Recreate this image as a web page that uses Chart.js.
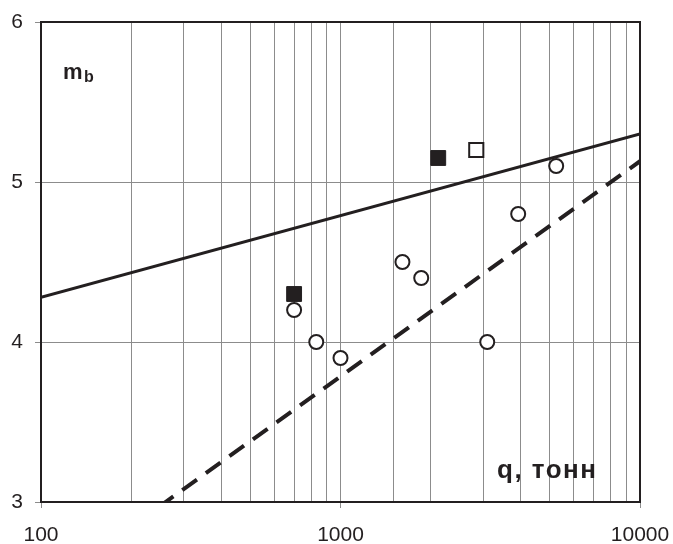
<!DOCTYPE html>
<html>
<head>
<meta charset="utf-8">
<script src="https://cdn.jsdelivr.net/npm/chart.js@4"></script>
<style>
  body { margin: 0; background: #fff; }
  #wrap { width: 673px; height: 544px; }
</style>
</head>
<body>
<div id="wrap"><canvas id="mbChart" width="673" height="544"></canvas></div>
<script>
// data
const filledSqX = [700, 2120];
const filledSqY = [4.3, 5.15];
const openSqX = [2840];
const openSqY = [5.2];
const circleX = [700, 830, 1000, 1610, 1860, 3090, 3920, 5250];
const circleY = [4.2, 4.0, 3.9, 4.5, 4.4, 4.0, 4.8, 5.1];
const lineX = [100, 10000];
const solidY = [4.28, 5.30];
const dashedY = [2.44, 5.13];
const xLabels = [100, 1000, 10000];
const yTicks = [3, 4, 5, 6];

const ink = '#231f20';
const pts = (xs, ys) => xs.map((x, i) => ({ x: x, y: ys[i] }));

// frame round the plot and the two captions
const framePlugin = {
    id: 'frame',
    afterDraw(chart) {
        const { ctx, chartArea: a } = chart;
        ctx.save();
        ctx.strokeStyle = ink;
        ctx.lineWidth = 2;
        ctx.strokeRect(a.left, a.top, a.right - a.left, a.bottom - a.top);

        ctx.fillStyle = ink;
        ctx.textBaseline = 'alphabetic';
        ctx.font = 'bold 22px "Liberation Sans", Arial, sans-serif';
        ctx.fillText('m', a.left + 22, a.top + 57);
        ctx.font = 'bold 16px "Liberation Sans", Arial, sans-serif';
        ctx.fillText('b', a.left + 43, a.top + 60);

        ctx.font = 'bold 26px "Liberation Sans", Arial, sans-serif';
        ctx.letterSpacing = '1.5px';
        ctx.fillText('q, тонн', a.left + 456, a.top + 456);
        ctx.restore();
    }
};

const ctx = document.getElementById('mbChart').getContext('2d');
new Chart(ctx, {
    type: 'scatter',
    data: {
        datasets: [
            {
                data: pts(lineX, solidY),
                showLine: true,
                borderColor: ink,
                borderWidth: 3,
                pointRadius: 0
            },
            {
                data: pts(lineX, dashedY),
                showLine: true,
                borderColor: ink,
                borderWidth: 4,
                borderDash: [18, 11],
                pointRadius: 0
            },
            {
                data: pts(circleX, circleY),
                pointStyle: 'circle',
                pointRadius: 7,
                pointBorderWidth: 2,
                pointBorderColor: ink,
                pointBackgroundColor: '#fff'
            },
            {
                data: pts(filledSqX, filledSqY),
                pointStyle: 'rect',
                pointRadius: 10.5,
                pointBorderWidth: 1,
                pointBorderColor: ink,
                pointBackgroundColor: ink
            },
            {
                data: pts(openSqX, openSqY),
                pointStyle: 'rect',
                pointRadius: 10,
                pointBorderWidth: 2,
                pointBorderColor: ink,
                pointBackgroundColor: '#fff'
            }
        ]
    },
    options: {
        responsive: false,
        devicePixelRatio: 1,
        animation: false,
        layout: { padding: { top: 22, right: 33, left: 0, bottom: 0 } },
        plugins: {
            legend: { display: false },
            tooltip: { enabled: false }
        },
        scales: {
            x: {
                type: 'logarithmic',
                min: 100,
                max: 10000,
                afterFit: s => { s.height = 42; s.paddingLeft = 0; s.paddingRight = 0; },
                border: { display: false },
                grid: {
                    color: '#8c8c8c',
                    lineWidth: 1,
                    tickLength: 6,
                    tickColor: c => xLabels.includes(c.tick && c.tick.value) ? '#8c8c8c' : 'rgba(0,0,0,0)'
                },
                ticks: {
                    autoSkip: false,
                    maxRotation: 0,
                    padding: 15,
                    color: ink,
                    font: { family: '"Liberation Sans", Arial, sans-serif', size: 21 },
                    callback: v => xLabels.includes(v) ? String(v) : ''
                }
            },
            y: {
                min: 3,
                max: 6,
                afterFit: s => { s.width = 41; s.paddingTop = 0; s.paddingBottom = 0; },
                afterBuildTicks: s => { s.ticks = yTicks.map(v => ({ value: v })); },
                border: { display: false },
                grid: {
                    color: '#8c8c8c',
                    lineWidth: 1,
                    tickLength: 6,
                    tickColor: '#8c8c8c'
                },
                ticks: {
                    padding: 12,
                    color: ink,
                    font: { family: '"Liberation Sans", Arial, sans-serif', size: 21 }
                }
            }
        }
    },
    plugins: [framePlugin]
});
</script>
</body>
</html>
